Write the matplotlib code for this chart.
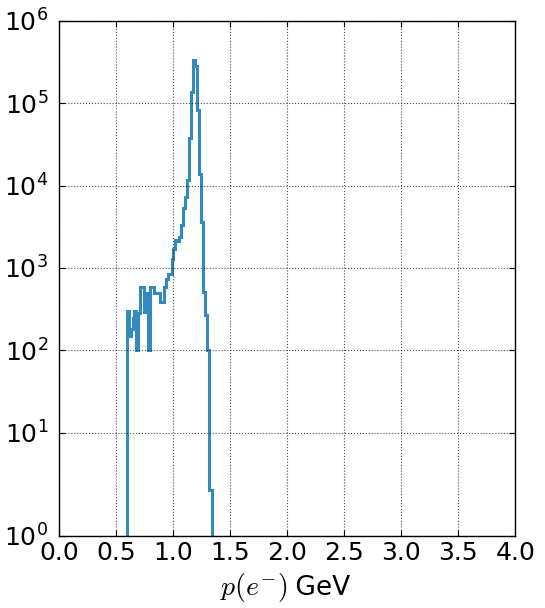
import numpy as np
import matplotlib
matplotlib.use("Agg")
import matplotlib.pyplot as plt
from matplotlib.ticker import FixedLocator, FixedFormatter, NullLocator

# ---- data ----
bin_start = 0.591          # GeV, left edge of first non-empty bin
bin_width = 0.0171         # GeV
counts = [300, 150, 180, 250, 300, 100, 283, 590, 590, 294,
          500, 100, 590, 590, 500, 500, 500, 390, 390, 580,
          740, 850, 850, 1300, 1700, 2190, 2100, 2400, 3300, 5300,
          7300, 11700, 38000, 138000, 337000, 280000, 83000, 13800, 3600, 515,
          270, 100, 2, 2]
edges = bin_start + bin_width * np.arange(len(counts) + 1)

xticks = [0.0, 0.5, 1.0, 1.5, 2.0, 2.5, 3.0, 3.5, 4.0]
xtick_labels = ["0.0", "0.5", "1.0", "1.5", "2.0", "2.5", "3.0", "3.5", "4.0"]
y_bottom = 10 ** (-0.25)
yticks = [y_bottom, 1e1, 1e2, 1e3, 1e4, 1e5, 1e6]
ytick_labels = ["$10^{0}$", "$10^{1}$", "$10^{2}$", "$10^{3}$",
                "$10^{4}$", "$10^{5}$", "$10^{6}$"]

fig = plt.figure(figsize=(5.45, 6.08), dpi=100)
ax = fig.add_axes([0.1088, 0.1192, 0.8367, 0.8463])
ax.set_yscale("log")
ax.stairs(counts, edges, baseline=1e-3, color="#348ABD", linewidth=2.2)

ax.set_xlim(0, 4)
ax.set_ylim(y_bottom, 1e6)
ax.xaxis.set_major_locator(FixedLocator(xticks))
ax.xaxis.set_major_formatter(FixedFormatter(xtick_labels))
ax.yaxis.set_major_locator(FixedLocator(yticks))
ax.yaxis.set_major_formatter(FixedFormatter(ytick_labels))
ax.yaxis.set_minor_locator(NullLocator())

ax.grid(True, which="major", color="k", linestyle=":", linewidth=0.8, alpha=0.7)
ax.tick_params(axis="both", which="major", direction="in", length=4,
               labelsize=18, top=True, right=True)
ax.tick_params(axis="x", pad=4)
ax.tick_params(axis="y", pad=8)
for s in ax.spines.values():
    s.set_linewidth(1.0)
    s.set_color("black")

ax.text(0.5, -0.115, "$p(e^{-})$", transform=ax.transAxes, fontsize=20,
        ha="right", va="baseline", math_fontfamily="cm")
ax.text(0.5, -0.115, " GeV", transform=ax.transAxes, fontsize=19,
        ha="left", va="baseline")

fig.savefig("out.png", dpi=100)
